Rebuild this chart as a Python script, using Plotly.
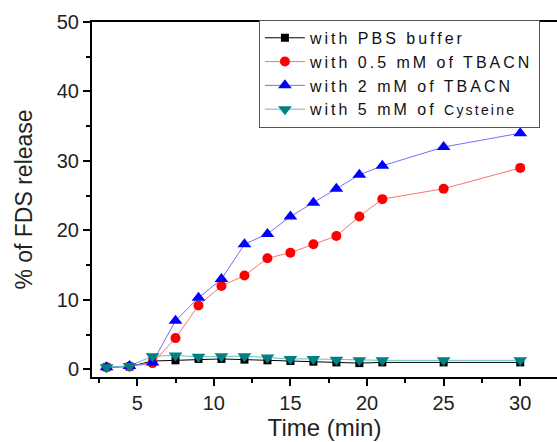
import plotly.graph_objects as go

time_min = [3, 4.5, 6, 7.5, 9, 10.5, 12, 13.5, 15, 16.5, 18, 19.5, 21, 25, 30]
pbs = [0.3, 0.4, 1.2, 1.3, 1.5, 1.5, 1.4, 1.3, 1.2, 1.1, 1.0, 0.9, 1.0, 1.0, 1.0]
tbacn_05 = [0.3, 0.4, 0.9, 4.5, 9.2, 12.0, 13.5, 16.0, 16.8, 18.0, 19.2, 22.0, 24.5, 26.0, 29.0]
tbacn_2 = [0.3, 0.5, 1.0, 7.0, 10.3, 13.0, 18.0, 19.5, 22.0, 24.0, 26.0, 28.0, 29.3, 32.0, 34.0]
cysteine = [0.3, 0.5, 1.9, 2.0, 1.8, 1.9, 1.9, 1.7, 1.5, 1.5, 1.4, 1.3, 1.3, 1.3, 1.3]

LS = "letter-spacing:3px"
series_names = [
    f"<span style='{LS}'>with PBS buffer</span>",
    f"<span style='{LS}'>with 0.5 mM of TBACN</span>",
    f"<span style='{LS}'>with 2 mM of TBACN</span>",
    f"<span style='{LS}'>with 5 mM of </span><span style='font-size:14px;letter-spacing:2.2px'>Cysteine</span>",
]

fig = go.Figure()
specs = [
    (pbs, series_names[0], "#000000", "#000000", "square", 8),
    (tbacn_05, series_names[1], "#ff7070", "#ff0000", "circle", 10),
    (tbacn_2, series_names[2], "#7070ff", "#0000ff", "triangle-up", 12),
    (cysteine, series_names[3], "#66c0b8", "#008080", "triangle-down", 12),
]
for ys, name, lc, mc, sym, sz in specs:
    fig.add_trace(go.Scatter(
        x=time_min, y=ys, name=name, mode="lines+markers",
        line=dict(color=lc, width=1),
        marker=dict(color=mc, symbol=sym, size=sz, line=dict(width=0)),
    ))

fig.update_layout(
    width=557, height=442,
    margin=dict(l=92, r=0, t=22, b=65),
    paper_bgcolor="white", plot_bgcolor="white",
    font=dict(family="Liberation Sans, Arial, sans-serif", color="#222222"),
    legend=dict(
        x=0.359, y=1.006, xanchor="left", yanchor="top",
        bgcolor="white", bordercolor="#555555", borderwidth=1,
        font=dict(size=16, color="#111111"),
        tracegroupgap=0, itemwidth=40,
    ),
    showlegend=True,
)
fig.update_xaxes(
    range=[2.05, 32.4], showgrid=False, zeroline=False,
    showline=True, linecolor="black", linewidth=2, mirror=True,
    ticks="outside", ticklen=7, tickwidth=1.5, tickcolor="black",
    tickvals=[5, 10, 15, 20, 25, 30], tickfont=dict(size=20),
    minor=dict(tickvals=[2.5, 7.5, 12.5, 17.5, 22.5, 27.5], ticks="outside", ticklen=4, tickcolor="black", tickwidth=1.5),
    title=dict(text="Time (min)", font=dict(size=24), standoff=4),
)
fig.update_yaxes(
    range=[-1.1, 50], showgrid=False, zeroline=False,
    showline=True, linecolor="black", linewidth=2,
    ticks="outside", ticklen=7, tickwidth=1.5, tickcolor="black",
    tickvals=[0, 10, 20, 30, 40, 50], tickfont=dict(size=20),
    minor=dict(tickvals=[5, 15, 25, 35, 45], ticks="outside", ticklen=4, tickcolor="black", tickwidth=1.5),
    title=dict(text="% of FDS release", font=dict(size=23), standoff=18),
)

fig.write_html("out.html")
